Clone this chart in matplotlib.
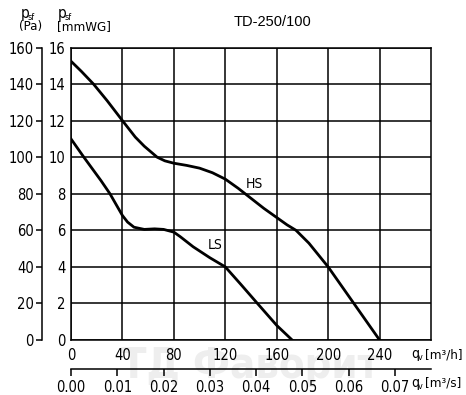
import matplotlib
matplotlib.use('Agg')
import matplotlib.pyplot as plt

# curves: q in m3/h, p in mmWG
hs_q = [0, 8, 17.5, 28, 40, 50, 57, 62, 67, 73, 80, 90, 100, 110, 120, 130, 140, 150, 160, 168, 175, 185, 200, 210, 220, 230, 240]
hs_p = [15.25, 14.7, 14.0, 13.1, 12.0, 11.1, 10.6, 10.3, 10.0, 9.8, 9.67, 9.55, 9.4, 9.15, 8.8, 8.3, 7.75, 7.2, 6.7, 6.3, 6.0, 5.3, 4.0, 3.0, 2.0, 1.0, 0]
ls_q = [0, 10, 23.3, 30.3, 36, 40, 44, 49, 57, 65, 72, 80, 85, 95, 108, 120, 132, 145, 160, 172]
ls_p = [11.0, 10.0, 8.72, 8.0, 7.3, 6.81, 6.45, 6.17, 6.05, 6.08, 6.05, 5.9, 5.65, 5.1, 4.5, 4.0, 3.05, 2.0, 0.8, 0]

x_ticks = [0, 40, 80, 120, 160, 200, 240]
y_ticks = list(range(0, 17, 2))
pa_ticks = list(range(0, 161, 20))
ms_ticks = [0.00, 0.01, 0.02, 0.03, 0.04, 0.05, 0.06, 0.07]

plt.rcParams['font.family'] = ['DejaVu Sans']
plt.rcParams['font.stretch'] = 'condensed'

W, H = 466, 395
fig = plt.figure(figsize=(W / 100, H / 100), dpi=100)
ax = fig.add_axes([71 / W, 1 - 340 / H, 360 / W, (340 - 47.5) / H])

# watermark, behind everything
fig.text(250 / W, 1 - 366 / H, 'ТД Фаворит', fontsize=30, color='#eeeeee',
         ha='center', va='center', fontweight='bold', zorder=-5)
ax.set_facecolor('none')

ax.plot(hs_q, hs_p, color='black', lw=2, zorder=3)
ax.plot(ls_q, ls_p, color='black', lw=2, zorder=3)
ax.text(143, 8.55, 'HS', fontsize=10, ha='center', va='center')
ax.text(112, 5.2, 'LS', fontsize=10, ha='center', va='center')

ax.set_xlim(0, 280)
ax.set_ylim(0, 16)
ax.set_xticks(x_ticks)
ax.set_yticks(y_ticks)
ax.grid(True, color='black', lw=1.1)
for s in ax.spines.values():
    s.set_linewidth(1.1)
ax.tick_params(axis='both', length=0, labelsize=10.5, colors='black')
ax.tick_params(axis='x', pad=6)
ax.tick_params(axis='y', pad=4)

# Pa axis on the left
pa = ax.secondary_yaxis(-(71 - 42) / 360, functions=(lambda y: y * 10, lambda y: y / 10))
pa.set_yticks(pa_ticks)
pa.tick_params(length=4, width=1.1, labelsize=10.5, pad=2)
pa.spines['left'].set_linewidth(1.1)

# m3/s axis at the bottom
ms = ax.secondary_xaxis(-(369 - 340) / 292.5,
                        functions=(lambda q: q / 3600, lambda v: v * 3600))
ms.set_xticks(ms_ticks)
ms.set_xticklabels([f'{v:.2f}' for v in ms_ticks])
ms.tick_params(length=5, width=1.1, labelsize=10.5, pad=3)
ms.spines['bottom'].set_linewidth(1.1)

# axis captions
def sub_label(x, y, main, sub, unit=None, size=11):
    fig.text(x / W, 1 - y / H, main, fontsize=size, va='baseline')
    fig.text((x + 7) / W, 1 - (y + 2) / H, sub, fontsize=6.5, va='baseline')
    if unit:
        fig.text((x + 14) / W, 1 - y / H, unit, fontsize=9.5, va='baseline')

sub_label(21, 18, 'p', 'sf')
fig.text(19 / W, 1 - 30 / H, '(Pa)', fontsize=9.5, va='baseline')
sub_label(58, 18, 'p', 'sf')
fig.text(57 / W, 1 - 30 / H, '[mmWG]', fontsize=9.5, va='baseline')
sub_label(411, 358, 'q', 'v', '[m³/h]', size=10)
sub_label(411, 387, 'q', 'v', '[m³/s]', size=10)

fig.text(272 / W, 1 - 22 / H, 'TD-250/100', fontsize=10.5, ha='center', va='center',
         family=['Liberation Sans', 'DejaVu Sans'], stretch='normal')

fig.savefig('out.png', dpi=100, facecolor='white')
